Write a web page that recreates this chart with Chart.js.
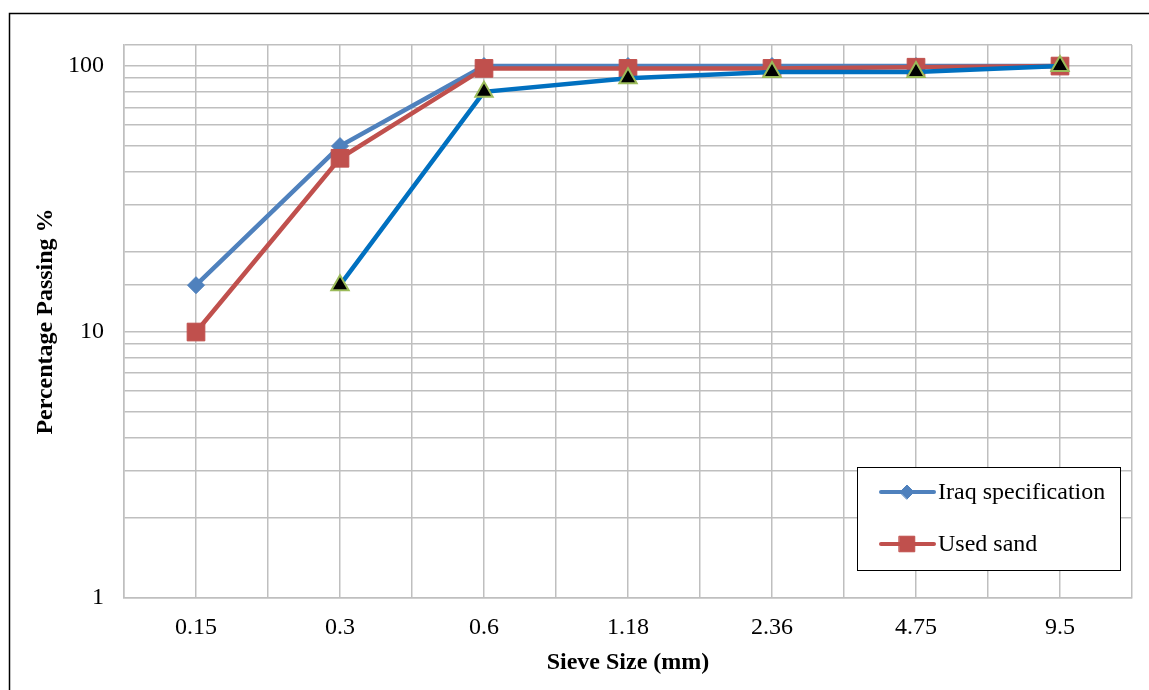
<!DOCTYPE html>
<html>
<head>
<meta charset="utf-8">
<script src="https://cdn.jsdelivr.net/npm/chart.js@4/dist/chart.umd.min.js"></script>
<style>
  html, body { margin: 0; padding: 0; background: #fff; }
  #wrap { position: relative; width: 1149px; height: 690px; }
</style>
</head>
<body>
<div id="wrap"><canvas id="c"></canvas></div>
<script>
// ---- data ----
const sieveSizes = ['0.15', '0.3', '0.6', '1.18', '2.36', '4.75', '9.5'];
const iraqSpecification = [15, 50, 100, 100, 100, 100, 100];
const usedSand = [10, 45, 98, 98, 98, 99, 100];
const lowerLimit = [null, 15, 80, 90, 95, 95, 100];
const yTickLabels = [1, 10, 100];

const FONT = '"Liberation Serif", "Times New Roman", serif';

function toPoints(arr) {
  return arr.map((v, i) => ({ x: i, y: v }));
}

const legendPlugin = {
  id: 'boxLegend',
  afterDraw(chart) {
    const ctx = chart.ctx;
    ctx.save();
    // outer frame
    ctx.strokeStyle = '#000';
    ctx.lineWidth = 1.5;
    ctx.strokeRect(9.5, 13.5, 2000, 2000);
    // legend box
    const bx = 857.5, by = 467.5, bw = 263, bh = 103;
    ctx.fillStyle = '#fff';
    ctx.fillRect(bx, by, bw, bh);
    ctx.lineWidth = 1;
    ctx.strokeRect(bx, by, bw, bh);
    const items = chart.data.datasets.filter(d => d.showInLegend);
    items.forEach((ds, i) => {
      const y = 492 + i * 52;
      ctx.strokeStyle = ds.borderColor;
      ctx.lineWidth = 4;
      ctx.lineCap = 'round';
      ctx.beginPath();
      ctx.moveTo(881, y);
      ctx.lineTo(934, y);
      ctx.stroke();
      ctx.fillStyle = ds.pointBackgroundColor;
      ctx.strokeStyle = ds.pointBorderColor;
      ctx.lineWidth = 1;
      Chart.helpers.drawPoint(ctx, {
        pointStyle: ds.pointStyle,
        radius: ds.legendRadius,
        borderWidth: 1
      }, 907, y);
      ctx.fillStyle = '#000';
      ctx.font = '24px ' + FONT;
      ctx.textBaseline = 'middle';
      ctx.textAlign = 'left';
      ctx.fillText(ds.label, 938, y + 1);
    });
    ctx.restore();
  }
};

new Chart(document.getElementById('c'), {
  type: 'line',
  data: {
    datasets: [
      {
        label: 'Iraq specification',
        showInLegend: true,
        data: toPoints(iraqSpecification),
        borderColor: '#4F81BD',
        backgroundColor: '#4F81BD',
        pointBackgroundColor: '#4F81BD',
        pointBorderColor: '#4F81BD',
        pointStyle: 'rectRot',
        pointRadius: 8.5,
        legendRadius: 7,
        pointBorderWidth: 1,
        borderWidth: 4.5,
        order: 3
      },
      {
        label: 'Used sand',
        showInLegend: true,
        data: toPoints(usedSand),
        borderColor: '#C0504D',
        backgroundColor: '#C0504D',
        pointBackgroundColor: '#C0504D',
        pointBorderColor: '#C0504D',
        pointStyle: 'rect',
        pointRadius: 12.5,
        legendRadius: 11,
        pointBorderWidth: 1,
        borderWidth: 4.5,
        order: 2
      },
      {
        label: 'Lower limit',
        showInLegend: false,
        data: toPoints(lowerLimit),
        borderColor: '#0070C0',
        backgroundColor: '#000000',
        pointBackgroundColor: '#000000',
        pointBorderColor: '#9BBB59',
        pointStyle: 'triangle',
        pointRadius: 10,
        pointBorderWidth: 2,
        borderWidth: 4.5,
        order: 1
      }
    ]
  },
  options: {
    responsive: true,
    maintainAspectRatio: false,
    animation: false,
    layout: { padding: { top: 45, right: 17, left: 0, bottom: 0 } },
    plugins: {
      legend: { display: false },
      tooltip: { enabled: false }
    },
    scales: {
      x: {
        type: 'linear',
        min: -0.5,
        max: sieveSizes.length - 0.5,
        afterBuildTicks(scale) {
          const t = [];
          for (let v = -0.5; v <= sieveSizes.length - 0.5 + 1e-9; v += 0.5) t.push({ value: v });
          scale.ticks = t;
        },
        afterFit(scale) { scale.height = 92; },
        grid: { color: '#BFBFBF', lineWidth: 1.5, drawTicks: false },
        border: { color: '#BFBFBF', width: 1.5 },
        ticks: {
          autoSkip: false,
          maxRotation: 0,
          padding: 15,
          color: '#000',
          font: { family: FONT, size: 24 },
          callback(value) {
            return Number.isInteger(value) ? sieveSizes[value] : '';
          }
        },
        title: {
          display: true,
          text: 'Sieve Size (mm)',
          color: '#000',
          font: { family: FONT, size: 24, weight: 'bold' },
          padding: { top: 0, bottom: 13 }
        }
      },
      y: {
        type: 'logarithmic',
        min: 1,
        max: 120,
        afterFit(scale) { scale.width = 124; },
        grid: { color: '#BFBFBF', lineWidth: 1.5, drawTicks: false },
        border: { color: '#BFBFBF', width: 1.5 },
        ticks: {
          autoSkip: false,
          padding: 20,
          color: '#000',
          font: { family: FONT, size: 24 },
          callback(value) {
            return yTickLabels.includes(value) ? String(value) : '';
          }
        },
        title: {
          display: true,
          text: 'Percentage Passing %',
          color: '#000',
          font: { family: FONT, size: 24, weight: 'bold' },
          padding: { top: 31, bottom: 0 }
        }
      }
    }
  },
  plugins: [legendPlugin]
});
</script>
</body>
</html>
